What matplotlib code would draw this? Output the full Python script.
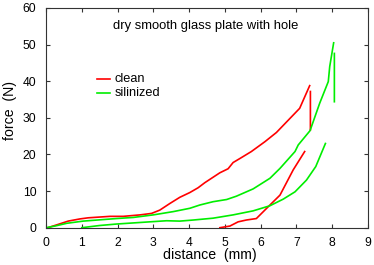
import numpy as np
import matplotlib
matplotlib.use("Agg")
import matplotlib.pyplot as plt

plt.rcParams["font.family"] = ["Liberation Sans", "DejaVu Sans"]

# clean plate: loading, drop, unloading (NaN breaks the segments)
clean_x = [0.05, 0.34, 0.62, 0.95, 1.18, 1.79, 2.16, 2.63, 2.95, 3.18, 3.46, 3.74,
           4.02, 4.25, 4.44, 4.86, 5.09, 5.23, 5.42, 5.74, 6.12, 6.44, 7.09, 7.37,
           np.nan, 7.39, 7.39,
           np.nan, 7.23, 6.91, 6.54, 6.26, 5.88, 5.60, 5.37, 5.14, 4.86]
clean_y = [0.0, 0.9, 1.8, 2.4, 2.7, 3.1, 3.1, 3.5, 3.9, 4.8, 6.6, 8.3,
           9.6, 10.9, 12.3, 15.0, 16.1, 17.8, 18.9, 20.8, 23.5, 26.0, 32.6, 38.8,
           np.nan, 37.2, 26.7,
           np.nan, 20.8, 15.8, 8.9, 6.2, 2.5, 2.1, 1.6, 0.45, 0.0]

# silinized plate
sil_x = [0.0, 0.25, 0.58, 1.04, 1.97, 2.44, 3.0, 3.56, 4.02, 4.30, 4.67, 5.05,
         5.32, 5.79, 6.26, 6.54, 6.96, 7.05, 7.38, 7.65, 7.89, 7.93, 8.04,
         np.nan, 8.06, 8.06,
         np.nan, 7.81, 7.54, 7.28, 6.96, 6.63, 6.26, 5.79, 5.23, 4.67, 4.12,
         3.74, 3.37, 2.90, 1.97, 1.50, 1.00]
sil_y = [0.0, 0.45, 1.2, 1.8, 2.5, 2.8, 3.5, 4.4, 5.3, 6.2, 7.1, 7.7,
         8.6, 10.6, 13.5, 16.2, 20.8, 22.6, 26.5, 34.0, 39.9, 44.0, 50.5,
         np.nan, 47.6, 34.4,
         np.nan, 23.0, 16.7, 13.0, 9.8, 7.8, 6.0, 4.6, 3.5, 2.6, 2.1,
         1.8, 1.9, 1.6, 1.0, 0.6, 0.0]

W, H = 374, 265
fig = plt.figure(figsize=(W / 100, H / 100), dpi=100)
ax = fig.add_axes([46 / W, 1 - 227.7 / H, 322 / W, 219.7 / H])

ax.plot(clean_x, clean_y, color="#ff0000", lw=1.2)
ax.plot(sil_x, sil_y, color="#00ee00", lw=1.2)

# legend drawn gnuplot-style inside the plot
ax.plot([1.42, 1.78], [40.5, 40.5], color="#ff0000", lw=1.2)
ax.plot([1.42, 1.78], [36.7, 36.7], color="#00ee00", lw=1.2)
ax.text(1.92, 40.5, "clean", fontsize=9.2, va="center", ha="left")
ax.text(1.92, 36.7, "silinized", fontsize=9.2, va="center", ha="left")

ax.text(4.46, 55.1, "dry smooth glass plate with hole", fontsize=9.4,
        ha="center", va="center")

ax.set_xlim(0, 9)
ax.set_ylim(0, 60)
ax.set_xticks(range(0, 10))
ax.set_yticks(range(0, 61, 10))
ax.tick_params(direction="in", top=True, right=True, length=3, width=0.8,
               labelsize=8.7, color="#333333")
ax.tick_params(axis="x", pad=7)
ax.tick_params(axis="y", pad=7)
for s in ax.spines.values():
    s.set_color("#333333")
    s.set_linewidth(0.8)

fig.text(209.5 / W, 1 - 255 / H, "distance  (mm)", fontsize=10.2,
         ha="center", va="center")
fig.text(10 / W, 1 - 111 / H, "force  (N)", fontsize=10.2, rotation=90,
         ha="center", va="center")

fig.savefig("out.png", dpi=100)
